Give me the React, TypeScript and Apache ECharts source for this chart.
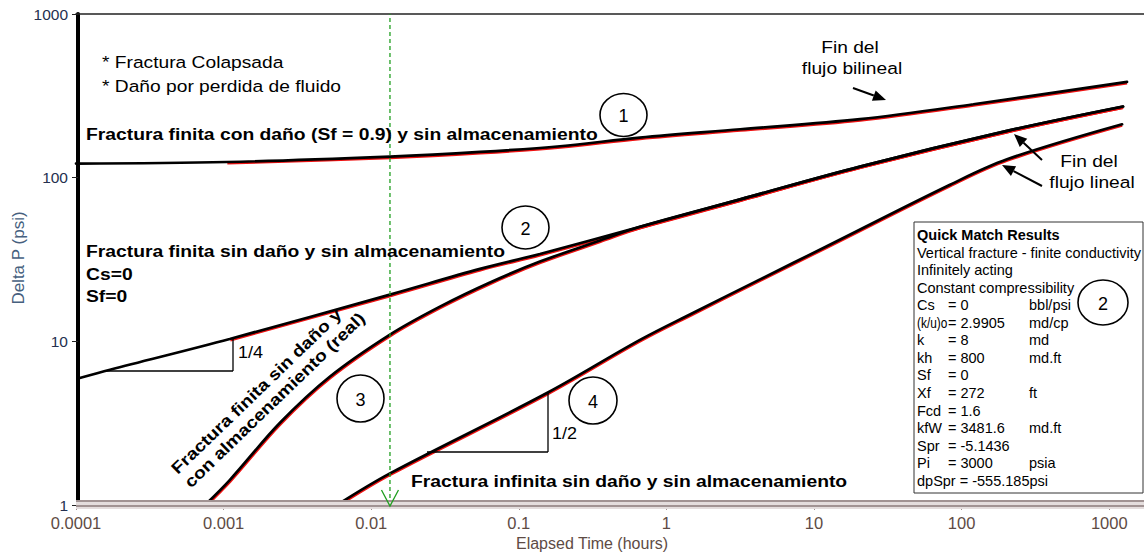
import React, { useEffect, useRef } from "react";
import * as echarts from "echarts";

// ---------- data (Elapsed Time in hours, Delta P in psi) ----------
const curve1Time = [1.0e-4, 1.05e-3, 0.0134, 0.0546, 0.19, 0.66, 3.16, 20.5, 120, 1320];
const curve1DeltaP = [122, 124.7, 134.6, 143.6, 155.6, 175.8, 197.6, 227.6, 281, 385];

const curve2Time = [1.06e-4, 1.7e-4, 1.1e-3, 0.0134, 0.0546, 0.139, 0.662, 3.16, 20.5, 203, 1240];
const curve2DeltaP = [5.97, 6.71, 10.34, 19.3, 27.7, 34.2, 50.1, 73.7, 116.9, 193, 272];

const curve3Time = [7.48e-4, 1.1e-3, 2.41e-3, 5.26e-3, 0.0134, 0.0292, 0.0638, 0.139, 0.355, 0.662, 3.16, 20.5, 203, 1240];
const curve3DeltaP = [1.0, 1.42, 3.18, 6.1, 11.0, 16.3, 22.9, 30.7, 41.3, 50.1, 73.7, 116.9, 193, 272];

const curve4Time = [5.86e-3, 0.0134, 0.155, 0.662, 1.51, 4.31, 12.2, 83.4, 203, 1222];
const curve4DeltaP = [1.0, 1.56, 4.83, 10.2, 14.9, 23.9, 38.1, 90.5, 129.5, 212];

const matchStartTime = 1e-3; // red model match starts here on curves 1 and 2
const markerTime = 0.0134; // green dashed marker
const markerSpan = [1, 1000];

const xTickValues = [0.0001, 0.001, 0.01, 0.1, 1, 10, 100, 1000];
const xTickLabels = ["0.0001", "0.001", "0.01", "0.1", "1", "10", "100", "1000"];
const yTickValues = [1, 10, 100, 1000];
const yTickLabels = ["1", "10", "100", "1000"];

const matchTitle = "Quick Match Results";
const matchLines = ["Vertical fracture - finite conductivity", "Infinitely acting", "Constant compressibility"];
const matchParamNames = ["Cs", "(k/u)o", "k", "kh", "Sf", "Xf", "Fcd", "kfW", "Spr", "Pi"];
const matchParamValues = ["= 0", "= 2.9905", "= 8", "= 800", "= 0", "= 272", "= 1.6", "= 3481.6", "= -5.1436", "= 3000"];
const matchParamUnits = ["bbl/psi", "md/cp", "md", "md.ft", "", "ft", "", "md.ft", "", "psia"];
const matchLastLine = "dpSpr = -555.185psi";

// ---------- helpers ----------
const FONT = "'Liberation Sans', Arial, Helvetica, sans-serif";
const X_MIN = 1e-4;
const X_MAX = 1720;

const pairs = (t: number[], p: number[], from = 0) =>
  t.map((v, i) => [v, p[i]]).filter((d) => d[0] >= from);

const fmtTick = (values: number[], labels: string[]) => (v: number) => {
  const i = values.findIndex((x) => Math.abs(x - v) / x < 1e-6);
  return i >= 0 ? labels[i] : "";
};

type TOpt = { size?: number; bold?: boolean; sx?: number; align?: string; color?: string; rot?: number };
const txt = (text: string, x: number, y: number, o: TOpt = {}) => ({
  type: "text",
  x,
  y,
  scaleX: o.sx ?? 1,
  rotation: o.rot ?? 0,
  z: 100,
  style: {
    text,
    fill: o.color ?? "#000",
    fontSize: o.size ?? 17,
    fontWeight: o.bold ? "bold" : "normal",
    fontFamily: FONT,
    align: o.align ?? "left",
    verticalAlign: "middle",
  },
});

const arrow = (x1: number, y1: number, x2: number, y2: number) => {
  const dx = x2 - x1;
  const dy = y2 - y1;
  const L = Math.hypot(dx, dy);
  const ux = dx / L;
  const uy = dy / L;
  const hl = 13;
  const hw = 5.5;
  const bx = x2 - ux * hl;
  const by = y2 - uy * hl;
  return [
    { type: "line", z: 100, shape: { x1, y1, x2: bx, y2: by }, style: { stroke: "#000", lineWidth: 2 } },
    {
      type: "polygon",
      z: 100,
      shape: { points: [[x2, y2], [bx - uy * hw, by + ux * hw], [bx + uy * hw, by - ux * hw]] },
      style: { fill: "#000" },
    },
  ];
};

const seg = (x1: number, y1: number, x2: number, y2: number, w = 1.3, c = "#000") => ({
  type: "line",
  z: 100,
  shape: { x1, y1, x2, y2 },
  style: { stroke: c, lineWidth: w },
});

const ring = (cx: number, cy: number, rx: number, ry: number, label: string) => [
  { type: "ellipse", z: 100, shape: { cx, cy, rx, ry }, style: { fill: "rgba(0,0,0,0)", stroke: "#000", lineWidth: 1.6 } },
  txt(label, cx, cy + 1, { size: 18, align: "center" }),
];

const BOLD_SIZE = 16.5;
const BOLD_SX = 1.17;
const REG_SIZE = 17;
const REG_SX = 1.13;

export default function App() {
  const ref = useRef<HTMLDivElement>(null);

  useEffect(() => {
    const el = ref.current;
    if (!el) return;
    const chart = echarts.init(el, undefined, { renderer: "svg" });

    const black = (name: string, data: number[][]) => ({
      name,
      type: "line",
      xAxisIndex: 0,
      yAxisIndex: 0,
      data,
      showSymbol: false,
      symbol: "none",
      smooth: 0.35,
      z: 3,
      lineStyle: { color: "#000", width: 2.7, cap: "round" },
      silent: true,
    });
    const red = (name: string, data: number[][]) => ({
      name,
      type: "line",
      xAxisIndex: 2,
      yAxisIndex: 1,
      data,
      showSymbol: false,
      symbol: "none",
      smooth: 0.35,
      z: 2,
      lineStyle: { color: "#ee1111", width: 2.8 },
      silent: true,
    });

    const hiddenX = { type: "log", min: X_MIN, max: X_MAX, show: false };

    chart.setOption({
      animation: false,
      backgroundColor: "#fff",
      grid: [
        { left: 76, top: 14, width: 1068, height: 491 },
        { left: 76.7, top: 15.2, width: 1068, height: 491 },
      ],
      xAxis: [
        {
          type: "log",
          gridIndex: 0,
          min: X_MIN,
          max: X_MAX,
          position: "bottom",
          axisLine: { show: false },
          axisTick: { show: true, length: 5, lineStyle: { color: "#a09090", width: 1 } },
          axisLabel: {
            show: true,
            margin: 9,
            color: "#5e4b44",
            fontSize: 16.5,
            fontFamily: FONT,
            showMaxLabel: false,
            formatter: fmtTick(xTickValues, xTickLabels),
          },
          splitLine: { show: false },
          minorTick: { show: false },
        },
        {
          type: "log",
          gridIndex: 0,
          min: X_MIN,
          max: X_MAX,
          position: "top",
          axisLine: { show: true, lineStyle: { color: "#222", width: 1.6 } },
          axisTick: { show: false },
          axisLabel: { show: false },
          splitLine: { show: false },
        },
        { ...hiddenX, gridIndex: 1 },
      ],
      yAxis: [
        {
          type: "log",
          gridIndex: 0,
          min: 1,
          max: 1000,
          offset: -2,
          axisLine: { show: true, lineStyle: { color: "#000", width: 4 } },
          axisTick: { show: true, length: 6, lineStyle: { color: "#222", width: 1 } },
          axisLabel: {
            margin: 10,
            color: "#25304f",
            fontSize: 15.5,
            fontFamily: FONT,
            formatter: fmtTick(yTickValues, yTickLabels),
          },
          splitLine: { show: false },
        },
        { type: "log", gridIndex: 1, min: 1, max: 1000, show: false },
      ],
      series: [
        {
          name: "marker",
          type: "line",
          xAxisIndex: 0,
          yAxisIndex: 0,
          data: markerSpan.map((p) => [markerTime, p]),
          showSymbol: false,
          symbol: "none",
          z: 4,
          silent: true,
          lineStyle: { color: "#1f9e1f", type: [4, 3], width: 1.3 },
        },
        red("m1", pairs(curve1Time, curve1DeltaP, matchStartTime)),
        red("m2", pairs(curve2Time, curve2DeltaP, matchStartTime)),
        red("m3", pairs(curve3Time, curve3DeltaP)),
        red("m4", pairs(curve4Time, curve4DeltaP)),
        black("c1", pairs(curve1Time, curve1DeltaP)),
        black("c2", pairs(curve2Time, curve2DeltaP)),
        black("c3", pairs(curve3Time, curve3DeltaP)),
        black("c4", pairs(curve4Time, curve4DeltaP)),
      ],
    });

    const mx = chart.convertToPixel({ xAxisIndex: 0 }, markerTime) as number;
    const bottomY = chart.convertToPixel({ yAxisIndex: 0 }, 1) as number;

    const rowY = (i: number) => 235 + i * 17.55;
    const boxTexts: any[] = [txt(matchTitle, 917, rowY(0), { size: 14.5, bold: true })];
    matchLines.forEach((l, i) => boxTexts.push(txt(l, 917, rowY(i + 1), { size: 14.5 })));
    matchParamNames.forEach((n, i) => {
      const y = rowY(i + 4);
      boxTexts.push(txt(n, 917, y, { size: 14.5, sx: n.length > 4 ? 0.82 : 1 }));
      boxTexts.push(txt(matchParamValues[i], 948, y, { size: 14.5 }));
      if (matchParamUnits[i]) boxTexts.push(txt(matchParamUnits[i], 1029, y, { size: 14.5 }));
    });
    boxTexts.push(txt(matchLastLine, 917, rowY(14), { size: 14.5 }));

    const elements: any[] = [
      // bottom axis band
      { type: "rect", z: 90, shape: { x: 76, y: bottomY - 5, width: 1068, height: 9 }, style: { fill: "#e4dddd" } },
      seg(76, bottomY - 4, 1144, bottomY - 4, 1.5, "#8b7a7a"),
      seg(76, bottomY + 1, 1144, bottomY + 1, 1.5, "#8b7a7a"),
      // green marker arrow head
      {
        type: "polyline",
        z: 101,
        shape: { points: [[mx - 8.5, bottomY - 15], [mx, bottomY + 1], [mx + 8.5, bottomY - 15]] },
        style: { stroke: "#1f9e1f", lineWidth: 1.3, fill: "none" },
      },
      // axis names
      txt("Elapsed Time (hours)", 592, 543, { size: 16, align: "center", color: "#5e4b44" }),
      txt("Delta P (psi)", 18, 258, { size: 17, align: "center", color: "#46607e", rot: Math.PI / 2 }),
      // notes
      txt("* Fractura Colapsada", 102, 62.5, { size: REG_SIZE, sx: REG_SX }),
      txt("* Daño por perdida de fluido", 102, 86, { size: REG_SIZE, sx: REG_SX }),
      txt("Fractura finita con daño (Sf = 0.9) y sin almacenamiento", 86, 134, { size: BOLD_SIZE, bold: true, sx: BOLD_SX }),
      txt("Fractura finita sin daño y sin almacenamiento", 86, 251, { size: BOLD_SIZE, bold: true, sx: BOLD_SX }),
      txt("Cs=0", 86, 274, { size: BOLD_SIZE, bold: true, sx: BOLD_SX }),
      txt("Sf=0", 86, 296, { size: BOLD_SIZE, bold: true, sx: BOLD_SX }),
      txt("Fractura infinita sin daño y sin almacenamiento", 411, 481, { size: BOLD_SIZE, bold: true, sx: BOLD_SX }),
      {
        type: "group",
        x: 174,
        y: 471,
        rotation: 0.768,
        z: 100,
        children: [
          txt("Fractura finita sin daño y", 0, 0, { size: BOLD_SIZE, bold: true, sx: BOLD_SX }),
          txt("con almacenamiento (real)", 0, 19, { size: BOLD_SIZE, bold: true, sx: BOLD_SX }),
        ],
      },
      txt("Fin del", 850, 47, { size: REG_SIZE, sx: REG_SX, align: "center" }),
      txt("flujo bilineal", 852, 68, { size: REG_SIZE, sx: REG_SX, align: "center" }),
      txt("Fin del", 1089, 161, { size: REG_SIZE, sx: REG_SX, align: "center" }),
      txt("flujo lineal", 1092, 182, { size: REG_SIZE, sx: REG_SX, align: "center" }),
      ...arrow(853, 88, 886, 100),
      ...arrow(1042, 160, 1014, 134),
      ...arrow(1042, 186, 1002, 165),
      // slope triangles
      seg(104, 371, 233, 371),
      seg(233, 338, 233, 371),
      txt("1/4", 238, 352, { size: 17, sx: 1.06 }),
      seg(427, 452, 548, 452),
      seg(548, 392, 548, 452),
      txt("1/2", 552, 433, { size: 17, sx: 1.06 }),
      // numbered circles
      ...ring(623.5, 115, 23.5, 21.5, "1"),
      ...ring(525.5, 227.5, 23.5, 21.5, "2"),
      ...ring(360.5, 398.5, 23.5, 23.5, "3"),
      ...ring(593, 400.5, 24, 23.5, "4"),
      // quick match results box
      { type: "rect", z: 95, shape: { x: 914, y: 222, width: 229, height: 271 }, style: { fill: "#fff", stroke: "#333", lineWidth: 1 } },
      ...boxTexts,
      ...ring(1103, 302.5, 25, 22.5, "2"),
    ];

    chart.setOption({ graphic: { elements } });

    return () => chart.dispose();
  }, []);

  return (
    <div
      ref={ref}
      style={{ position: "fixed", left: 0, top: 0, width: 1144, height: 552, background: "#fff" }}
    />
  );
}
